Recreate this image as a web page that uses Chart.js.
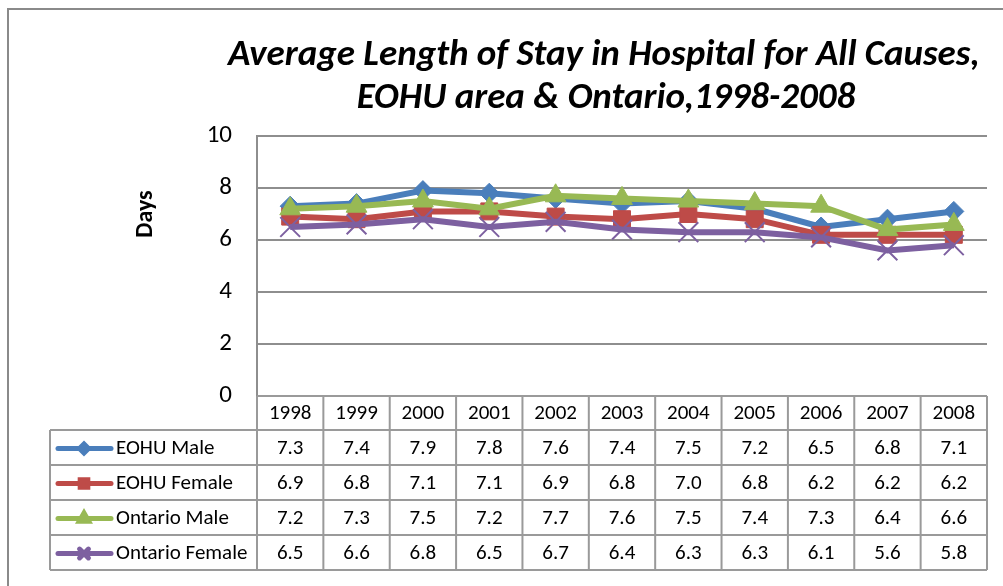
<!DOCTYPE html>
<html>
<head>
<meta charset="utf-8">
<script src="https://cdn.jsdelivr.net/npm/chart.js@4.4.1/dist/chart.umd.min.js"></script>
<style>
  html, body { margin: 0; padding: 0; background: #fff; }
  #wrap { width: 1003px; height: 586px; }
</style>
</head>
<body>
<div id="wrap"><canvas id="stayChart" width="1003" height="586"></canvas></div>
<script>
const years = ["1998", "1999", "2000", "2001", "2002", "2003", "2004", "2005", "2006", "2007", "2008"];
const eohuMale = [7.3, 7.4, 7.9, 7.8, 7.6, 7.4, 7.5, 7.2, 6.5, 6.8, 7.1];
const eohuFemale = [6.9, 6.8, 7.1, 7.1, 6.9, 6.8, 7.0, 6.8, 6.2, 6.2, 6.2];
const ontarioMale = [7.2, 7.3, 7.5, 7.2, 7.7, 7.6, 7.5, 7.4, 7.3, 6.4, 6.6];
const ontarioFemale = [6.5, 6.6, 6.8, 6.5, 6.7, 6.4, 6.3, 6.3, 6.1, 5.6, 5.8];
const seriesNames = ["EOHU Male", "EOHU Female", "Ontario Male", "Ontario Female"];
const titleLines = ["Average Length of Stay in Hospital for All Causes,", "EOHU area & Ontario,1998-2008"];
const yTitle = "Days";

const FONT = 'Carlito, Lato, "Open Sans", sans-serif';
const gridGray = "#8e8e8e";
const tableGray = "#9a9a9a";

const styles = [
  { color: "#4a7ebb", point: "rectRot", radius: 10, bw: 1 },
  { color: "#be4b48", point: "rect", radius: 12, bw: 1 },
  { color: "#98b954", point: "triangle", radius: 12, bw: 1 },
  { color: "#7d60a0", point: "crossRot", radius: 14, bw: 2 }
];
const seriesData = [eohuMale, eohuFemale, ontarioMale, ontarioFemale];

// title, axis title and the data table under the plot
const tablePlugin = {
  id: "tablePlugin",
  beforeDraw(chart) {
    const ctx = chart.ctx;
    ctx.save();
    ctx.fillStyle = "#fff";
    ctx.fillRect(0, 0, chart.width, chart.height);
    ctx.strokeStyle = "#8a8a8a";
    ctx.lineWidth = 2;
    ctx.beginPath();
    ctx.moveTo(8, chart.height + 2);
    ctx.lineTo(8, 9);
    ctx.lineTo(chart.width + 2, 9);
    ctx.stroke();
    ctx.restore();
  },
  afterDraw(chart) {
    const ctx = chart.ctx;
    const area = chart.chartArea;
    const xs = chart.scales.x;
    ctx.save();

    // title
    let size = 30;
    ctx.font = `italic bold ${size}px ${FONT}`;
    const w = ctx.measureText(titleLines[0]).width;
    size = size * 752 / w;
    ctx.font = `italic bold ${size}px ${FONT}`;
    ctx.fillStyle = "#000";
    ctx.textAlign = "center";
    ctx.textBaseline = "middle";
    ctx.fillText(titleLines[0], 604, 56);
    ctx.fillText(titleLines[1], 606, 99);

    // y axis title
    ctx.save();
    ctx.translate(146, 214);
    ctx.rotate(-Math.PI / 2);
    ctx.font = `bold 24px ${FONT}`;
    ctx.fillText(yTitle, 0, 0);
    ctx.restore();

    // table geometry
    const headTop = area.bottom;
    const headBottom = headTop + 34;
    const rowH = 35;
    const tableBottom = headBottom + rowH * seriesNames.length;
    const legendLeft = 50;
    const bounds = [area.left];
    for (let i = 1; i < years.length; i++) {
      bounds.push((xs.getPixelForValue(i - 1) + xs.getPixelForValue(i)) / 2);
    }
    bounds.push(area.right);

    ctx.strokeStyle = tableGray;
    ctx.lineWidth = 2;
    ctx.beginPath();
    ctx.moveTo(area.left, headTop);
    ctx.lineTo(area.right, headTop);
    for (let r = 0; r <= seriesNames.length; r++) {
      const y = headBottom + r * rowH;
      ctx.moveTo(legendLeft, y);
      ctx.lineTo(area.right, y);
    }
    bounds.forEach((bx) => {
      ctx.moveTo(bx, headTop);
      ctx.lineTo(bx, tableBottom);
    });
    ctx.moveTo(legendLeft, headBottom);
    ctx.lineTo(legendLeft, tableBottom);
    ctx.stroke();

    // header labels
    ctx.fillStyle = "#000";
    ctx.font = `21px ${FONT}`;
    ctx.textAlign = "center";
    ctx.textBaseline = "middle";
    years.forEach((yr, i) => {
      ctx.fillText(yr, xs.getPixelForValue(i), (headTop + headBottom) / 2 + 1);
    });

    // rows
    seriesNames.forEach((name, r) => {
      const cy = headBottom + r * rowH + rowH / 2 + 1;
      const st = styles[r];
      ctx.strokeStyle = st.color;
      ctx.lineWidth = 5;
      ctx.lineCap = "round";
      ctx.beginPath();
      ctx.moveTo(58, cy);
      ctx.lineTo(111, cy);
      ctx.stroke();
      ctx.fillStyle = st.color;
      Chart.helpers.drawPoint(ctx, {
        pointStyle: st.point,
        radius: st.radius * 0.45,
        rotation: 0,
        borderWidth: st.bw
      }, 84, cy);
      ctx.fillStyle = "#000";
      ctx.textAlign = "left";
      ctx.fillText(name, 116, cy);
      ctx.textAlign = "center";
      seriesData[r].forEach((v, i) => {
        ctx.fillText(v.toFixed(1), xs.getPixelForValue(i), cy);
      });
    });
    ctx.restore();
  }
};

new Chart(document.getElementById("stayChart"), {
  type: "line",
  data: {
    labels: years,
    datasets: seriesNames.map((name, i) => ({
      label: name,
      data: seriesData[i],
      borderColor: styles[i].color,
      backgroundColor: styles[i].color,
      borderWidth: 6,
      tension: 0,
      pointStyle: styles[i].point,
      pointRadius: styles[i].radius,
      pointBackgroundColor: styles[i].color,
      pointBorderColor: styles[i].color,
      pointBorderWidth: styles[i].bw,
      order: seriesNames.length - 1 - i
    }))
  },
  options: {
    responsive: false,
    animation: false,
    layout: { padding: { top: 136, right: 2, left: 0, bottom: 0 } },
    plugins: {
      legend: { display: false },
      title: { display: false },
      tooltip: { enabled: false }
    },
    scales: {
      x: {
        type: "category",
        offset: true,
        grid: { display: false },
        border: { display: false },
        ticks: { display: false },
        afterFit(scale) { scale.height = 190; }
      },
      y: {
        min: 0,
        max: 10,
        ticks: {
          stepSize: 2,
          padding: 25,
          color: "#000",
          font: { family: FONT, size: 25 }
        },
        grid: { color: gridGray, lineWidth: 2, drawTicks: false },
        border: { display: true, color: gridGray, width: 2 },
        afterFit(scale) { scale.width = 257; }
      }
    }
  },
  plugins: [tablePlugin]
});
</script>
</body>
</html>
